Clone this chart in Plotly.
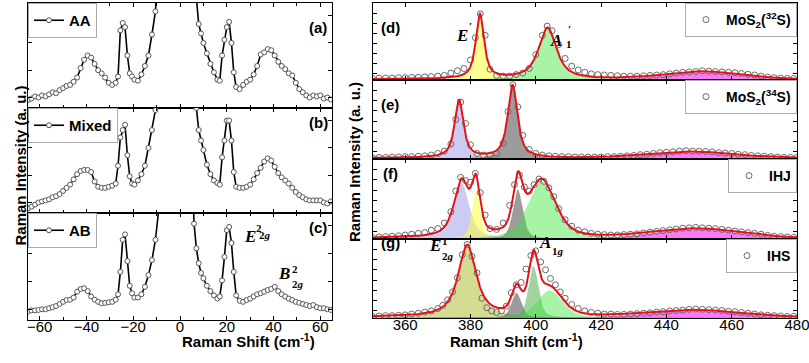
import numpy as np
import plotly.graph_objects as go

W, H = 809, 363

# ---------------- left panels: low-frequency Raman spectra ----------------
left_x = [-65, -63.5, -62, -60.5, -59, -57.5, -56, -54.5, -53, -51.5, -50, -48.5, -47, -45.5, -44, -42.5,
          -41, -39.5, -38, -36.5, -35, -33.5, -32, -30.5, -29, -27.5,
          -26.5, -25.5, -24.5, -23.5, -22.5, -21.5, -20.5, -19.5,
          -18, -16.5, -15, -13.5, -12, -10.5, -9,
          0,
          6, 7, 8, 9, 10, 11.5, 13, 14.5,
          16, 17, 18, 19, 20, 21, 22, 23, 24,
          25.5, 27, 28.5, 30, 31.5, 33, 34.5, 36, 37.5, 39, 40.5, 42, 43.5, 45, 46.5, 48, 49.5,
          51, 52.5, 54, 55.5, 57, 58.5, 60, 61.5, 63, 64.5]

aa_y = [7.6, 9, 11, 10, 12, 11, 13, 15, 14, 17, 19, 21, 22, 25, 29, 38, 46, 50, 48, 42, 36, 33, 29, 24, 22, 24,
        30, 74, 81, 77, 50, 33, 30, 27,
        26, 32, 40, 50, 70, 92, 150,
        500,
        200, 105, 80, 71, 62, 52, 42, 34,
        27, 26, 50, 65, 77, 82, 62, 34, 20,
        18, 22, 25, 27, 32, 40, 51, 53, 56, 55, 50, 44, 40, 37, 33, 31, 24, 18, 15, 12, 10, 12, 11, 12, 9, 10, 8]

mixed_y = [4.4, 6, 8, 10, 11, 12, 13, 15, 16, 18, 21, 24, 27, 32, 37, 40, 41, 41, 39, 30, 25, 24, 24, 25, 26, 28,
           45, 72, 79, 84, 55, 35, 28, 27,
           31, 37, 45, 62, 79, 98, 160,
           500,
           200, 100, 79, 69, 60, 46, 37, 31,
           28.6, 27, 53, 69, 88, 88, 69, 39, 25,
           24, 24, 25, 27, 32, 38, 43, 49, 52, 50, 44, 38, 34, 31, 28, 24, 20, 17, 15, 13, 12, 12, 12, 12, 10, 9, 11]

ab_y = [7.8, 9, 9, 9.4, 10, 10, 11, 12, 13, 15, 17, 18.7, 19, 21, 26.5, 29, 29.7, 27, 22, 19, 17, 15.6, 16, 16.5, 17, 19,
        24, 45, 75, 80, 55, 32, 25, 21,
        21, 24, 31, 42, 56, 75, 105,
        500,
        90, 67, 53, 44, 39, 32, 27, 23,
        20, 22, 37, 59, 84, 87, 72, 45, 23,
        18, 17, 18.7, 20, 22, 24, 25, 26.5, 28, 29, 31, 27, 24, 22, 20, 18.7, 17, 16, 15, 14, 13, 14, 12, 11, 11, 10, 9.4]

left_names = ["AA", "Mixed", "AB"]
left_tags = ["(a)", "(b)", "(c)"]
left_xticks = [-60, -40, -20, 0, 20, 40, 60]

# ---------------- right panels: high-frequency spectra (data points) ----------------
d_x = [350, 352, 354, 356, 358, 360, 362, 364, 366, 368, 370, 372, 374, 376, 378, 380,
       381.5, 383, 384.5, 386, 388, 390, 392, 394, 396, 398, 400, 402, 403.5,
       405, 407, 409, 411, 413, 415, 417, 419, 421, 423, 425, 427, 429, 431, 433, 435, 437, 439, 441, 443,
       445, 447, 449, 451, 453, 455, 457, 459, 461, 463, 465, 467, 469, 471, 473, 475, 477, 479]
d_y = [2, 2.5, 2.5, 2.5, 3, 3, 3.5, 3.5, 4, 4.5, 5, 6, 9, 12, 15, 26,
       55, 86, 58, 14, 6, 5, 5, 7, 9, 15, 33, 58, 70,
       64, 46, 28, 18, 13, 10, 8, 7, 6.5, 6, 5.5, 5, 5, 5, 5.5, 6, 6.5, 7, 8, 9,
       10, 10.5, 11, 12, 11.5, 11, 10.5, 10, 9.5, 8.5, 7.5, 6.5, 5, 4, 3, 2.5, 2, 2]

e_x = [350, 352, 354, 356, 358, 360, 362, 364, 366, 368, 370, 372,
       374, 375.5, 377, 378.5, 380, 382, 384, 386, 388, 390, 391.5, 393, 394.5,
       396, 398, 400, 402, 404, 406, 408, 410, 412, 414, 416, 418, 420, 422, 424, 426, 428, 430, 432, 434,
       436, 438, 440, 442, 444, 446, 448, 450, 452, 454, 456, 458, 460, 462, 464, 466, 468, 470, 472, 474,
       476, 478, 480]
e_y = [1.5, 2, 2, 2.5, 2.5, 3, 3, 3.5, 4, 5, 7, 10,
       19, 50, 72, 45, 18, 7, 5, 5, 7, 20, 60, 94, 66,
       30, 12, 7, 5, 4, 3.5, 3, 3, 2.5, 2.5, 2.5, 2.5, 2.5, 3, 3, 3.5, 4, 4.5, 5.5, 6,
       7, 8, 8.5, 9, 10, 10.5, 10, 10, 9.5, 9, 8, 7.5, 7, 6, 5.5, 4.5, 4, 3.5, 3, 2.5,
       2, 2, 2]

f_x = [350, 352, 354, 356, 358, 360, 362, 364, 366, 368, 370, 372,
       374, 375.5, 377, 378.5, 380, 381.5, 383, 384.5, 386, 388, 390, 392,
       393.5, 395, 396.5, 398, 399.5, 401, 402.5, 404, 405.5, 407,
       409, 411, 413, 415, 417, 419, 421, 423, 425, 427, 429, 431, 433, 435, 437, 439, 441, 443, 445, 447,
       449, 451, 453, 455, 457, 459, 461, 463, 465, 467, 469, 471, 473, 475, 477, 479]
f_y = [2, 2.5, 3, 3.5, 4, 5, 6, 7, 8, 11, 13, 20,
       34, 60, 77, 73, 71, 82, 58, 30, 13, 12, 20, 42,
       68, 80, 65, 60, 68, 75, 72, 64, 53, 38,
       24, 16, 11, 9, 7, 6, 5.5, 5, 5, 5.5, 6, 6.5, 7.5, 8.5, 9.5, 10.5, 11.5, 12.5, 13.5, 14,
       14.5, 14, 13.5, 13, 12, 11, 10, 9, 8, 7, 6, 4.5, 3.5, 3, 2.5, 2]

g_x = [350, 352, 354, 356, 358, 360, 362, 364, 366, 368, 370,
       371.5, 373, 374.5, 376, 377.5, 379, 380.5, 382, 383.5, 385, 386.5, 388, 389.5, 391, 392.5, 394,
       395.5, 397, 398.5, 400, 401.5, 403, 404.5, 406, 407.5, 409,
       411, 413, 415, 417, 419, 421, 423, 425, 427, 429, 431, 433, 435, 437, 439, 441, 443, 445, 447, 449,
       451, 453, 455, 457, 459, 461, 463, 465, 467, 469, 471, 473, 475, 477, 479]
g_y = [2, 2.5, 3, 3, 3.5, 4, 5, 6, 7.5, 9, 12,
       16, 23, 33, 51, 80, 93, 78, 57, 25, 13, 9, 7, 9, 15, 32, 42,
       45, 62, 79, 85, 71, 61, 50, 42, 33, 25,
       17, 12, 9, 7, 6, 5, 5, 4.5, 4.5, 5, 5.5, 6, 6.5, 7.5, 8, 9, 9.5, 10, 11, 11.5,
       11, 10.5, 10, 9.5, 8.5, 8, 7, 6, 5, 4, 3.5, 3, 2.5, 2, 2]

# fitted components (peak centre, FWHM, height, Lorentz fraction)
d_center = [382.9, 403.6, 451.0]
d_fwhm = [3.0, 6.5, 28.0]
d_amp = [84, 67, 10]
d_eta = [0.8, 0.8, 0.0]
d_base = 1.0

e_center = [376.5, 392.9, 447.0]
e_fwhm = [3.2, 3.5, 32.0]
e_amp = [73, 92, 8]
e_eta = [0.8, 0.8, 0.0]
e_base = 1.3

f_center = [377.3, 381.7, 394.5, 401.8, 449.0]
f_fwhm = [5.5, 3.0, 3.5, 10.0, 32.0]
f_amp = [70, 60, 62, 72, 12]
f_eta = [0.7, 0.5, 0.5, 0.5, 0.0]
f_base = 1.0

g_center = [379.0, 394.1, 399.3, 404.3, 448.0]
g_fwhm = [6.5, 3.5, 3.5, 9.0, 34.0]
g_amp = [91, 32, 66, 35, 9]
g_eta = [0.85, 0.5, 0.5, 0.5, 0.0]
g_base = 1.0

YEL = "rgba(255,255,60,0.55)"
GRN = "rgba(60,230,60,0.45)"
LAV = "rgba(140,140,230,0.45)"
GRY = "rgba(90,90,90,0.60)"
PNK = "rgba(245,50,245,0.65)"
OLV = "rgba(185,195,70,0.60)"
MGR = "rgba(70,170,70,0.50)"

d_colors = [YEL, GRN, PNK]
e_colors = [LAV, GRY, PNK]
f_colors = [LAV, YEL, GRY, GRN, PNK]
g_colors = [OLV, GRY, MGR, GRN, PNK]

right_names = ["<b>MoS<sub>2</sub>(<sup>32</sup>S)</b>", "<b>MoS<sub>2</sub>(<sup>34</sup>S)</b>",
               "<b>IHJ</b>", "<b>IHS</b>"]
right_tags = ["(d)", "(e)", "(f)", "(g)"]
right_xticks = [360, 380, 400, 420, 440, 460, 480]

# ---------------- geometry (pixels) ----------------
LX = (28, 332)
RX = (372.5, 797)
left_rows = [(3, 108), (108, 213), (213, 320)]
right_rows = [(3, 80), (80, 159), (159, 239), (239, 318)]


def px(x):
    return x / W


def py(y):
    return 1 - y / H


def pv(x, c, w, a, eta):
    L = 1.0 / (1.0 + ((x - c) / (w / 2.0)) ** 2)
    G = np.exp(-4 * np.log(2) * ((x - c) / w) ** 2)
    return a * (eta * L + (1 - eta) * G)


FONT = "Liberation Sans, Arial, sans-serif"
SERIF = "Liberation Serif, Times New Roman, serif"

fig = go.Figure()
layout = dict(width=W, height=H, margin=dict(l=0, r=0, t=0, b=0, pad=0, autoexpand=False), autosize=False,
              paper_bgcolor="white", plot_bgcolor="white",
              font=dict(family=FONT, size=15, color="black"))

axis_common = dict(showline=True, linecolor="black", linewidth=1, mirror="ticks", ticks="inside",
                   ticklen=4, tickcolor="black", showgrid=False, zeroline=False, automargin=False)

annotations = []

# left panels
left_series = [aa_y, mixed_y, ab_y]
for i in range(3):
    k = i + 1
    top, bot = left_rows[i]
    xa = "xaxis" if k == 1 else f"xaxis{k}"
    ya = "yaxis" if k == 1 else f"yaxis{k}"
    layout[xa] = dict(axis_common, domain=[px(LX[0]), px(LX[1])], range=[-65, 65], anchor=f"y{k if k > 1 else ''}",
                      tickvals=left_xticks, showticklabels=(i == 2), ticklabelstandoff=-7,
                      ticklabeloverflow="allow",
                      minor=dict(ticks="inside", dtick=10, ticklen=3, tickcolor="black"),
                      tickfont=dict(size=15, family=FONT))
    layout[ya] = dict(axis_common, domain=[py(bot), py(top)], range=[0, 100], anchor=f"x{k if k > 1 else ''}",
                      tickvals=[10, 36, 62, 88], showticklabels=False)
    legname = "legend" if k == 1 else f"legend{k}"
    fig.add_trace(go.Scatter(x=left_x, y=left_series[i], mode="lines+markers",
                             name=f"<b>{left_names[i]}</b>",
                             line=dict(color="black", width=1.6),
                             marker=dict(symbol="circle", size=5, color="white",
                                         line=dict(color="#555555", width=1)),
                             xaxis=f"x{k if k > 1 else ''}", yaxis=f"y{k if k > 1 else ''}",
                             legend=legname, showlegend=True))
    layout[legname] = dict(x=px(LX[0]), y=py(top), xanchor="left", yanchor="top", xref="paper", yref="paper",
                           bgcolor="white", bordercolor="#aaaaaa", borderwidth=1, itemwidth=30,
                           font=dict(family=FONT, size=15, color="black"))
    annotations.append(dict(x=px(318), y=py(top + 14), xref="paper", yref="paper", text=f"<b>{left_tags[i]}</b>",
                            showarrow=False, font=dict(family=FONT, size=15, color="black")))

# right panels
right_data = [(d_x, d_y, d_center, d_fwhm, d_amp, d_eta, d_base, d_colors),
              (e_x, e_y, e_center, e_fwhm, e_amp, e_eta, e_base, e_colors),
              (f_x, f_y, f_center, f_fwhm, f_amp, f_eta, f_base, f_colors),
              (g_x, g_y, g_center, g_fwhm, g_amp, g_eta, g_base, g_colors)]
xf = np.linspace(350, 480, 1301)
for j in range(4):
    k = j + 4
    top, bot = right_rows[j]
    xs, ys, cs, ws, amps, etas, base, cols = right_data[j]
    layout[f"xaxis{k}"] = dict(axis_common, domain=[px(RX[0]), px(RX[1])], range=[350, 480], anchor=f"y{k}",
                               tickvals=right_xticks, showticklabels=(j == 3), ticklabelstandoff=-7,
                               ticklabeloverflow="allow",
                               tickfont=dict(size=15, family=FONT))
    layout[f"yaxis{k}"] = dict(axis_common, domain=[py(bot), py(top)], range=[0, 100], anchor=f"x{k}",
                               tickvals=[9, 22, 35, 48, 61, 74, 87], showticklabels=False)
    total = np.full_like(xf, base)
    for c, w, a, e, col in zip(cs, ws, amps, etas, cols):
        comp = pv(xf, c, w, a, e)
        total = total + comp
        fig.add_trace(go.Scatter(x=xf, y=comp, mode="lines", fill="tozeroy", fillcolor=col,
                                 line=dict(width=0, color=col), hoverinfo="skip", showlegend=False,
                                 xaxis=f"x{k}", yaxis=f"y{k}"))
    legname = f"legend{k}"
    fig.add_trace(go.Scatter(x=xs, y=ys, mode="markers", name=right_names[j],
                             marker=dict(symbol="circle-open", size=6, color="#6a6a6a", line=dict(width=1)),
                             xaxis=f"x{k}", yaxis=f"y{k}", legend=legname, showlegend=True))
    fig.add_trace(go.Scatter(x=xf, y=total, mode="lines", line=dict(color="#e3131b", width=2),
                             showlegend=False, hoverinfo="skip", xaxis=f"x{k}", yaxis=f"y{k}"))
    layout[legname] = dict(x=px(RX[1]), y=py(top), xanchor="right", yanchor="top", xref="paper", yref="paper",
                           bgcolor="white", bordercolor="#aaaaaa", borderwidth=1, itemwidth=30,
                           font=dict(family=FONT, size=14, color="black"))
    annotations.append(dict(x=px(390), y=py(top + 14), xref="paper", yref="paper", text=f"<b>{right_tags[j]}</b>",
                            showarrow=False, font=dict(family=FONT, size=15, color="black")))

# axis titles
annotations += [
    dict(x=px(180), y=py(352), xref="paper", yref="paper", showarrow=False,
         text="<b>Raman Shift (cm<sup>-1</sup>)</b>", font=dict(family=FONT, size=15)),
    dict(x=px(585), y=py(352), xref="paper", yref="paper", showarrow=False,
         text="<b>Raman Shift (cm<sup>-1</sup>)</b>", font=dict(family=FONT, size=15)),
    dict(x=px(10), y=py(166), xref="paper", yref="paper", showarrow=False, textangle=-90,
         text="<b>Raman Intensity (a. u.)</b>", font=dict(family=FONT, size=15)),
    dict(x=px(354), y=py(162), xref="paper", yref="paper", showarrow=False, textangle=-90,
         text="<b>Raman Intensity (a. u.)</b>", font=dict(family=FONT, size=15)),
]

# mode labels: (base letter, superscript, subscript) with pixel positions of each part
mode_labels = [
    # letter, x, y, sup, sx, sy, sub, bx, by
    ("E", 462, 24, "′", 470, 18, "", 0, 0),
    ("A", 564, 29, "′", 573, 21, "1", 574, 36),
    ("E", 435, 257, "1", 445, 249, "2<i>g</i>", 448, 264),
    ("A", 553, 254, "", 0, 0, "1<i>g</i>", 566, 259),
    ("E", 242, 236, "2", 254, 228, "2<i>g</i>", 257, 243),
    ("B", 284, 285, "2", 295, 277, "2<i>g</i>", 298, 292),
]
for let, x0, y0, sup, sx, sy, sub, bx, by in mode_labels:
    annotations.append(dict(x=px(x0), y=py(y0), xref="paper", yref="paper", showarrow=False,
                            text=f"<b><i>{let}</i></b>", font=dict(family=SERIF, size=17, color="black")))
    if sup:
        annotations.append(dict(x=px(sx), y=py(sy), xref="paper", yref="paper", showarrow=False,
                                text=f"<b>{sup}</b>", font=dict(family=SERIF, size=11, color="black")))
    if sub:
        annotations.append(dict(x=px(bx), y=py(by), xref="paper", yref="paper", showarrow=False,
                                text=f"<b>{sub}</b>", font=dict(family=SERIF, size=11, color="black")))

layout["annotations"] = annotations
fig.update_layout(**layout)
fig.write_html("out.html", config={"displayModeBar": False, "staticPlot": True},
               post_script="document.body.style.margin='0px';document.body.style.overflow='hidden';")
